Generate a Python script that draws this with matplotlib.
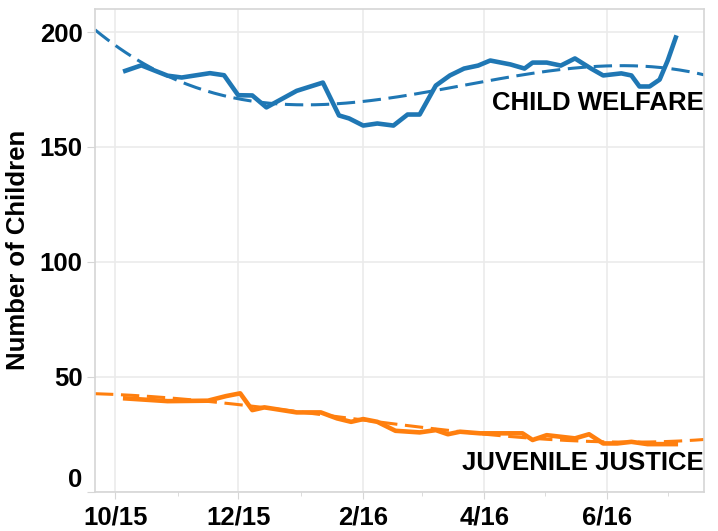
import matplotlib
matplotlib.use('Agg')
import matplotlib.pyplot as plt
import matplotlib.dates as mdates
import numpy as np
import pandas as pd

plt.rcParams.update({
    'font.family'      : ['Liberation Sans', 'DejaVu Sans'],
    'font.weight'      : 'bold',
    'font.size'        : 18.5,
    'axes.labelweight' : 'bold',
})

# child welfare counts
cw_dates = ['2015-10-06', '2015-10-14', '2015-10-27', '2015-11-03', '2015-11-17', '2015-11-24',
            '2015-12-01', '2015-12-08', '2015-12-15', '2015-12-30', '2016-01-12', '2016-01-20',
            '2016-01-25', '2016-02-01', '2016-02-08', '2016-02-16', '2016-02-23', '2016-02-29',
            '2016-03-08', '2016-03-15', '2016-03-22', '2016-03-29', '2016-04-04', '2016-04-14',
            '2016-04-21', '2016-04-25', '2016-05-02', '2016-05-09', '2016-05-16', '2016-05-24',
            '2016-05-30', '2016-06-08', '2016-06-13', '2016-06-17', '2016-06-22', '2016-06-27',
            '2016-07-01', '2016-07-05']
cw_values = [183.1, 185.5, 181.0, 180.2, 182.1, 181.2,
             172.5, 172.4, 167.2, 174.4, 178.0, 163.7,
             162.4, 159.3, 160.2, 159.3, 164.1, 164.1,
             176.7, 181.1, 184.1, 185.4, 187.6, 185.9,
             184.1, 186.7, 186.7, 185.4, 188.5, 184.1,
             181.1, 182.0, 181.1, 176.3, 176.3, 179.3,
             187.6, 197.6]

# juvenile justice counts
jj_dates = ['2015-10-06', '2015-10-27', '2015-11-16', '2015-11-25', '2015-12-02', '2015-12-08',
            '2015-12-14', '2015-12-30', '2016-01-11', '2016-01-19', '2016-01-26', '2016-02-01',
            '2016-02-08', '2016-02-17', '2016-02-29', '2016-03-08', '2016-03-14', '2016-03-20',
            '2016-03-30', '2016-04-09', '2016-04-20', '2016-04-25', '2016-05-02', '2016-05-16',
            '2016-05-23', '2016-05-30', '2016-06-06', '2016-06-13', '2016-06-21', '2016-07-05']
jj_values = [40.6, 39.4, 39.6, 41.6, 42.8, 35.5,
             36.7, 34.5, 34.5, 31.9, 30.4, 31.6,
             30.4, 26.5, 25.8, 26.8, 25.0, 26.1,
             25.4, 25.4, 25.4, 22.5, 24.6, 23.2,
             25.0, 21.0, 21.0, 21.7, 20.7, 20.7]

tick_dates = ['2015-10-01', '2015-12-01', '2016-02-01', '2016-04-01', '2016-06-01']
tick_labels = ['10/15', '12/15', '2/16', '4/16', '6/16']
y_ticks = [0, 50, 100, 150, 200]

blue = '#1f77b4'
orange = '#ff7f0e'
grid_col = '#ebebeb'
spine_col = '#d6d6d6'

x_start = pd.Timestamp('2015-09-21')
x_end = pd.Timestamp('2016-07-19')

fig = plt.figure(figsize=(7.18, 5.31), dpi=100)
ax = fig.add_axes([0.1323, 0.074, 0.8482, 0.909])


def plot_series(dates, values, color, degree):
    '''draw the series plus a polynomial trend line across the whole axis'''
    d = pd.to_datetime(dates)
    x = mdates.date2num(d)
    ax.plot(d, values, color=color, lw=3.3, solid_joinstyle='round', zorder=3)
    coef = np.polyfit(x, values, degree)
    xs = np.linspace(mdates.date2num(x_start), mdates.date2num(x_end), 200)
    ax.plot(mdates.num2date(xs), np.polyval(coef, xs), color=color, lw=2.2,
            dashes=(6, 2.5), zorder=2)


plot_series(cw_dates, cw_values, blue, 3)
plot_series(jj_dates, jj_values, orange, 3)

ax.text(1.0, 169, 'CHILD WELFARE', transform=ax.get_yaxis_transform(),
        ha='right', va='center', fontsize=18.5, fontweight='bold', color='black')
ax.text(1.0, 12.5, 'JUVENILE JUSTICE', transform=ax.get_yaxis_transform(),
        ha='right', va='center', fontsize=18.5, fontweight='bold', color='black')

ax.set_xlim(x_start, x_end)
ax.set_ylim(0, 210)
ax.set_xticks(pd.to_datetime(tick_dates))
ax.set_xticklabels(tick_labels)
ax.xaxis.set_minor_locator(mdates.MonthLocator())
ax.set_yticks(y_ticks)
ax.set_ylabel('Number of Children', labelpad=7)

ax.grid(True, which='major', color=grid_col, lw=1.2)
ax.set_axisbelow(True)
for s in ax.spines.values():
    s.set_color(spine_col)
    s.set_linewidth(1.2)
ax.tick_params(axis='x', which='major', length=5, color=spine_col, pad=5)
ax.tick_params(axis='x', which='minor', length=3, color=spine_col)
ax.tick_params(axis='y', length=6, color=spine_col, pad=3)

# keep the zero label inside the figure like the original
ax.get_yticklabels()[0].set_verticalalignment('bottom')

fig.savefig('out.png', dpi=100)
